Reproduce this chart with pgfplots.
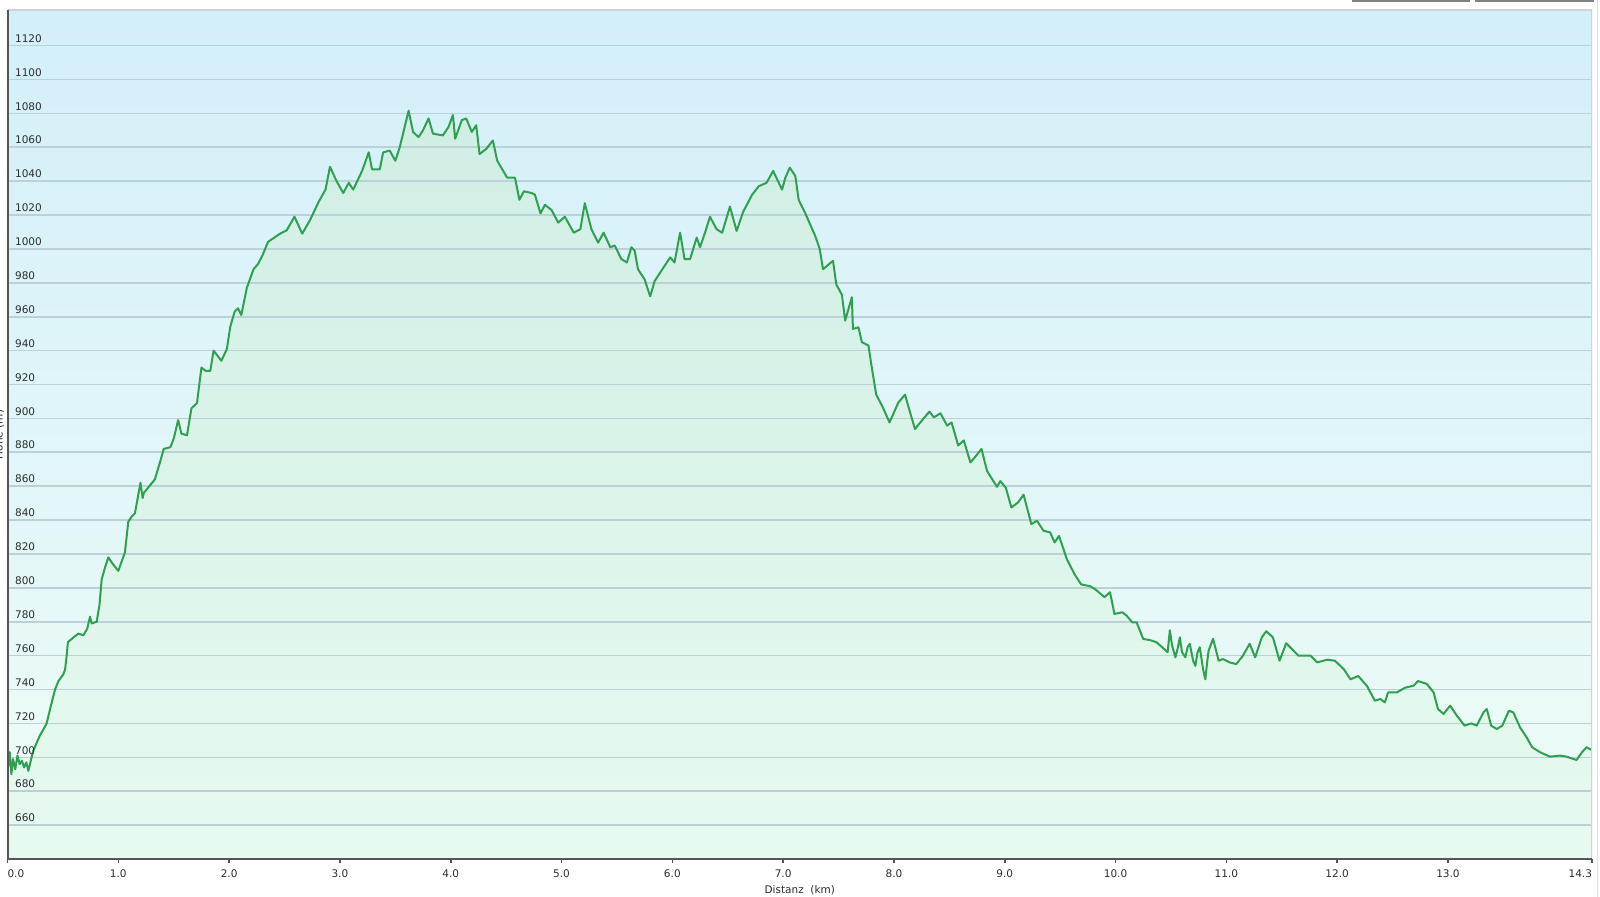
\documentclass[border=0pt]{standalone}
\usepackage{fontspec}
\setmainfont{DejaVu Sans}
\usepackage{pgfplots}
\usepackage{pgfplotstable}
\pgfplotsset{compat=1.18}

\definecolor{bgtop}{RGB}{211,239,250}
\definecolor{bgbot}{RGB}{238,252,246}
\definecolor{filltop}{RGB}{208,238,229}
\definecolor{fillbot}{RGB}{231,250,239}
\definecolor{linecol}{RGB}{46,160,80}
\definecolor{gridcol}{RGB}{188,208,216}
\definecolor{axiscol}{RGB}{85,85,85}
\definecolor{framecol}{RGB}{205,212,215}
\definecolor{txt}{RGB}{45,45,45}

\pgfplotstableread{
x y
0.000 710
0.005 694
0.020 703
0.035 690
0.050 699
0.070 693
0.090 701
0.110 696
0.130 698
0.150 694
0.170 697
0.188 692
0.210 698
0.233 704
0.260 708
0.293 713
0.320 716
0.353 720
0.390 730
0.429 740
0.460 745
0.504 749
0.520 752
0.534 760
0.545 768
0.564 769
0.600 771
0.640 773
0.684 772
0.720 776
0.745 783
0.760 779
0.805 780
0.830 790
0.850 805
0.880 812
0.910 818
0.940 815
1.000 810
1.060 821
1.090 839
1.120 842
1.150 844
1.200 862
1.220 853
1.230 856
1.280 860
1.330 864
1.380 875
1.410 882
1.470 883
1.500 888
1.540 899
1.570 891
1.620 890
1.660 906
1.710 909
1.750 930
1.790 928
1.830 928
1.860 940
1.930 934
1.980 941
2.010 954
2.050 963
2.080 965
2.110 961
2.160 977
2.220 988
2.260 991
2.300 996
2.350 1004
2.370 1005
2.460 1009
2.520 1011
2.590 1019
2.660 1009
2.730 1017
2.810 1028
2.870 1035
2.910 1048.5
2.970 1040
3.030 1033
3.080 1039
3.120 1035
3.200 1046
3.260 1057
3.290 1047
3.360 1047
3.390 1057
3.450 1058
3.500 1052
3.540 1060
3.620 1081.6
3.660 1069
3.710 1066
3.750 1070
3.800 1077
3.840 1068
3.930 1067
3.980 1072
4.020 1079
4.040 1065
4.100 1076
4.140 1077
4.190 1069
4.230 1073
4.260 1056
4.320 1059
4.380 1064
4.420 1052
4.510 1042
4.580 1042
4.620 1029
4.660 1034
4.730 1033
4.760 1032
4.810 1021
4.850 1026
4.910 1023
4.970 1015.5
5.030 1019
5.110 1009.6
5.170 1011.6
5.210 1027
5.270 1011.6
5.330 1003.7
5.380 1009.6
5.440 1001
5.480 1002
5.540 994
5.590 992
5.630 1001
5.660 999
5.690 988
5.750 982
5.800 972
5.840 981
5.900 987
5.980 995
6.020 992
6.070 1009.6
6.110 994
6.160 994
6.220 1006.7
6.250 1001
6.300 1010.6
6.340 1019
6.400 1011.6
6.450 1009.6
6.520 1025
6.580 1010.6
6.640 1022
6.720 1032
6.780 1037
6.850 1039
6.910 1046
6.990 1035
7.020 1042
7.060 1048
7.110 1043
7.140 1029
7.200 1021
7.290 1007.6
7.330 1000
7.360 988
7.450 993
7.480 979
7.530 973
7.560 957.7
7.620 971.5
7.630 952.8
7.680 953.7
7.710 945
7.770 943
7.800 930
7.840 914
7.900 906.5
7.960 897.6
8.040 909.4
8.100 914
8.150 902.6
8.190 893.7
8.250 898.6
8.320 904
8.360 900.6
8.420 903
8.480 895.7
8.520 897.6
8.580 884
8.630 887
8.690 874
8.730 877
8.790 882
8.840 869
8.930 859.6
8.960 863
9.010 859
9.060 847.4
9.120 850.4
9.170 855
9.240 837.6
9.290 839.6
9.350 833.7
9.410 832.7
9.450 826.8
9.490 830.7
9.560 817
9.630 808
9.690 802
9.770 801
9.820 799
9.900 794.5
9.950 797.4
9.990 784.6
10.060 785.6
10.100 783.6
10.150 779.7
10.190 779.7
10.250 769.8
10.310 769.2
10.370 767.9
10.420 765
10.470 762
10.490 775
10.510 766
10.540 759
10.560 764
10.580 770.8
10.600 762
10.630 759
10.650 765
10.670 767
10.700 757
10.720 754
10.740 762
10.760 765
10.790 752
10.810 746
10.830 758
10.840 763
10.880 770
10.930 757
10.970 758
11.030 756
11.090 755
11.150 760
11.210 767
11.260 759
11.320 770.8
11.360 774.4
11.420 770.8
11.480 757
11.540 767.3
11.590 764
11.650 760
11.760 760
11.820 756
11.910 757.6
11.980 757
12.060 752
12.120 746
12.190 748
12.270 742
12.340 733.4
12.390 734.4
12.430 732.4
12.460 738.3
12.540 738.3
12.610 741
12.690 742.3
12.730 745
12.810 743.3
12.870 738.3
12.910 728.5
12.960 725.6
13.020 730.5
13.080 724.6
13.150 718.7
13.210 720
13.260 718.7
13.320 726.5
13.350 728.5
13.390 718.7
13.440 716.7
13.490 718.7
13.550 727.5
13.590 726.5
13.650 717.7
13.710 711.8
13.760 705.9
13.830 703
13.920 700.4
14.010 701
14.070 700.4
14.160 698.4
14.210 703
14.250 705.9
14.300 704.3
}\elev

\begin{document}
\begin{tikzpicture}
\fill[white] (0,0) rectangle (800pt,448.5pt);
\begin{axis}[
  axis on top,
  at={(3.75pt,19pt)}, anchor=south west,
  scale only axis, width=792.25pt, height=424.5pt,
  xmin=0, xmax=14.3, ymin=640, ymax=1141,
  axis background/.style={top color=bgtop, bottom color=bgbot},
  axis x line*=bottom, axis y line*=left,
  axis line style={axiscol, line width=1pt},
  xtick={0,1,2,3,4,5,6,7,8,9,10,11,12,13,14.3},
  xticklabels={\makebox[0pt][l]{0.0},1.0,2.0,3.0,4.0,5.0,6.0,7.0,8.0,9.0,10.0,11.0,12.0,13.0,\makebox[0pt][r]{14.3}},
  ytick={660,680,...,1120},
  /pgf/number format/1000 sep={},
  /pgf/number format/assume math mode=true,
  tick align=outside,
  major tick length=2pt,
  x tick style={axiscol, line width=0.8pt},
  y tick style={draw=none},
  tick label style={font=\fontsize{5.25}{6}\selectfont, text=txt, inner sep=0pt},
  xticklabel style={anchor=north, yshift=-3.4pt},
  yticklabel style={anchor=base west, xshift=5.6pt, yshift=1.65pt},
  xlabel={Distanz~~(km)},
  xlabel style={font=\fontsize{5.25}{6}\selectfont, text=txt, at={(axis description cs:0.5,0)}, anchor=center, yshift=-15.6pt},
]
\addplot[draw=none, top color=filltop, bottom color=fillbot] table[x=x,y=y] {\elev} \closedcycle;
\pgfplotsinvokeforeach{660,680,...,1120}{
  \draw[gridcol, line width=0.8pt] (axis cs:0,#1) -- (axis cs:14.3,#1);
}
\addplot[linecol, line width=1pt, line join=round] table[x=x,y=y] {\elev};
\draw[framecol, line width=1pt] (rel axis cs:0,1) -- (rel axis cs:1,1) -- (rel axis cs:1,0);
\end{axis}
\node[rotate=90, anchor=base, inner sep=0pt, font=\fontsize{5.25}{6}\selectfont, text=txt] at (1.3pt,231.25pt) {Höhe (m)};
\draw[gray, line width=0.6pt] (676.5pt,460pt) -- (676.5pt,448pt) -- (734.5pt,448pt) -- (734.5pt,460pt);
\draw[gray, line width=0.6pt] (738pt,460pt) -- (738pt,448pt) -- (796.5pt,448pt) -- (796.5pt,460pt);
\draw[black!12, line width=0.6pt] (798.9pt,0pt) -- (798.9pt,448.5pt);
\pgfresetboundingbox
\useasboundingbox (0,0) rectangle (800pt,448.5pt);
\end{tikzpicture}
\end{document}
